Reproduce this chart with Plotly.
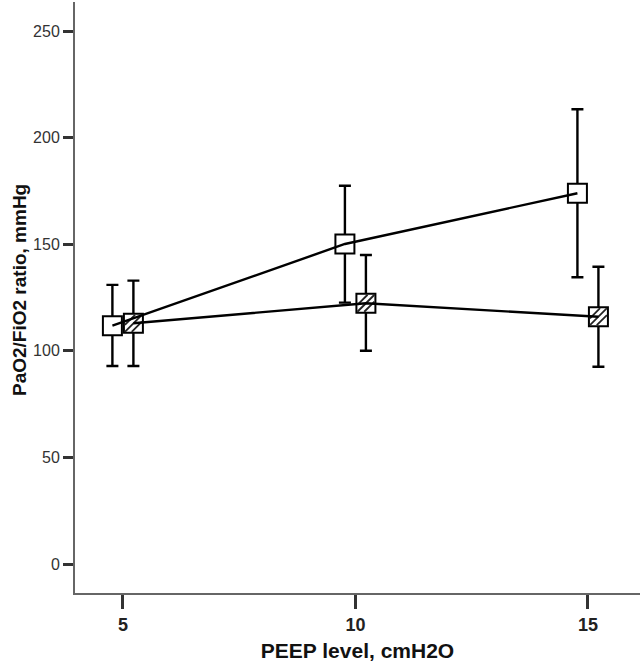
import plotly.graph_objects as go

# ---- data ----
peep = [5, 10, 15]
open_mean = [111.8, 150.1, 173.9]
open_hi = [130.9, 177.4, 213.3]
open_lo = [92.9, 122.6, 134.5]
hatch_mean = [112.9, 122.3, 116.0]
hatch_hi = [132.9, 144.9, 139.4]
hatch_lo = [92.9, 100.0, 92.5]
y_ticks = [0, 50, 100, 150, 200, 250]
x_ticks = [5, 10, 15]
x_title = "PEEP level, cmH2O"
y_title = "PaO2/FiO2 ratio, mmHg"

# ---- layout geometry ----
W, H = 640, 667
ML, MR, MT, MB = 75, 0, 2, 74
XR = [3.97, 16.12]
YR = [-13.6, 263.6]
PW, PH = W - ML - MR, H - MT - MB
px_x = PW / (XR[1] - XR[0])
px_y = PH / (YR[1] - YR[0])
dodge = 10.5 / px_x
MS = 19  # marker side in px

xo = [v - dodge for v in peep]
xh = [v + dodge for v in peep]

fig = go.Figure()


def err(mean, hi, lo):
    return dict(type="data", symmetric=False,
                array=[h - m for h, m in zip(hi, mean)],
                arrayminus=[m - l for m, l in zip(mean, lo)],
                color="black", thickness=2.4, width=6)


# open squares with error bars
fig.add_trace(go.Scatter(x=xo, y=open_mean, mode="markers",
                         error_y=err(open_mean, open_hi, open_lo),
                         marker=dict(symbol="square", size=MS, color="white",
                                     line=dict(color="black", width=2)),
                         showlegend=False))
# hatched squares with error bars
fig.add_trace(go.Scatter(x=xh, y=hatch_mean, mode="markers",
                         error_y=err(hatch_mean, hatch_hi, hatch_lo),
                         marker=dict(symbol="square", size=MS, color="white",
                                     line=dict(color="black", width=2)),
                         showlegend=False))
# hatch lines inside the hatched squares
for h in [-0.72 * MS / 2, 0, 0.72 * MS / 2]:
    sx = (h / 2) / px_x
    sy = -(h / 2) / px_y
    fig.add_trace(go.Scatter(x=[v + sx for v in xh], y=[v + sy for v in hatch_mean],
                             mode="markers",
                             marker=dict(symbol="line-ne", size=MS - abs(h) - 2,
                                         line=dict(color="#222", width=1.8)),
                             showlegend=False, hoverinfo="skip"))

# connecting lines on top
fig.add_trace(go.Scatter(x=xo, y=open_mean, mode="lines",
                         line=dict(color="black", width=2.4), showlegend=False))
fig.add_trace(go.Scatter(x=xh, y=hatch_mean, mode="lines",
                         line=dict(color="black", width=2.4), showlegend=False))

fig.update_layout(
    width=W, height=H,
    margin=dict(l=ML, r=MR, t=MT, b=MB),
    plot_bgcolor="white", paper_bgcolor="white",
    font=dict(family="Liberation Sans, Arial, sans-serif", color="#222"),
    annotations=[dict(text=f"<b>{y_title}</b>", textangle=-90, showarrow=False,
                      xref="paper", yref="paper",
                      x=(19 - ML) / PW, y=(MT + PH - 290) / PH,
                      xanchor="center", yanchor="middle",
                      font=dict(size=19, color="#111"))],
)
fig.update_xaxes(range=XR, tickvals=x_ticks, ticktext=[f"<b>{v}</b>" for v in x_ticks],
                 showgrid=False, zeroline=False, showline=True, linecolor="#666",
                 linewidth=2, ticks="outside", ticklen=14, tickwidth=2.5,
                 tickcolor="#333", tickfont=dict(size=18, color="#222"),
                 title=dict(text=f"<b>{x_title}</b>", font=dict(size=21, color="#111"),
                            standoff=10))
fig.update_yaxes(range=YR, tickvals=y_ticks, showgrid=False, zeroline=False,
                 showline=True, linecolor="#666", linewidth=2, ticks="outside",
                 ticklen=10, tickwidth=2.5, tickcolor="#333",
                 tickfont=dict(size=16, color="#333"))

fig.write_html("out.html", config={"displayModeBar": False},
               post_script="document.body.style.margin='0';document.body.style.padding='0';")
